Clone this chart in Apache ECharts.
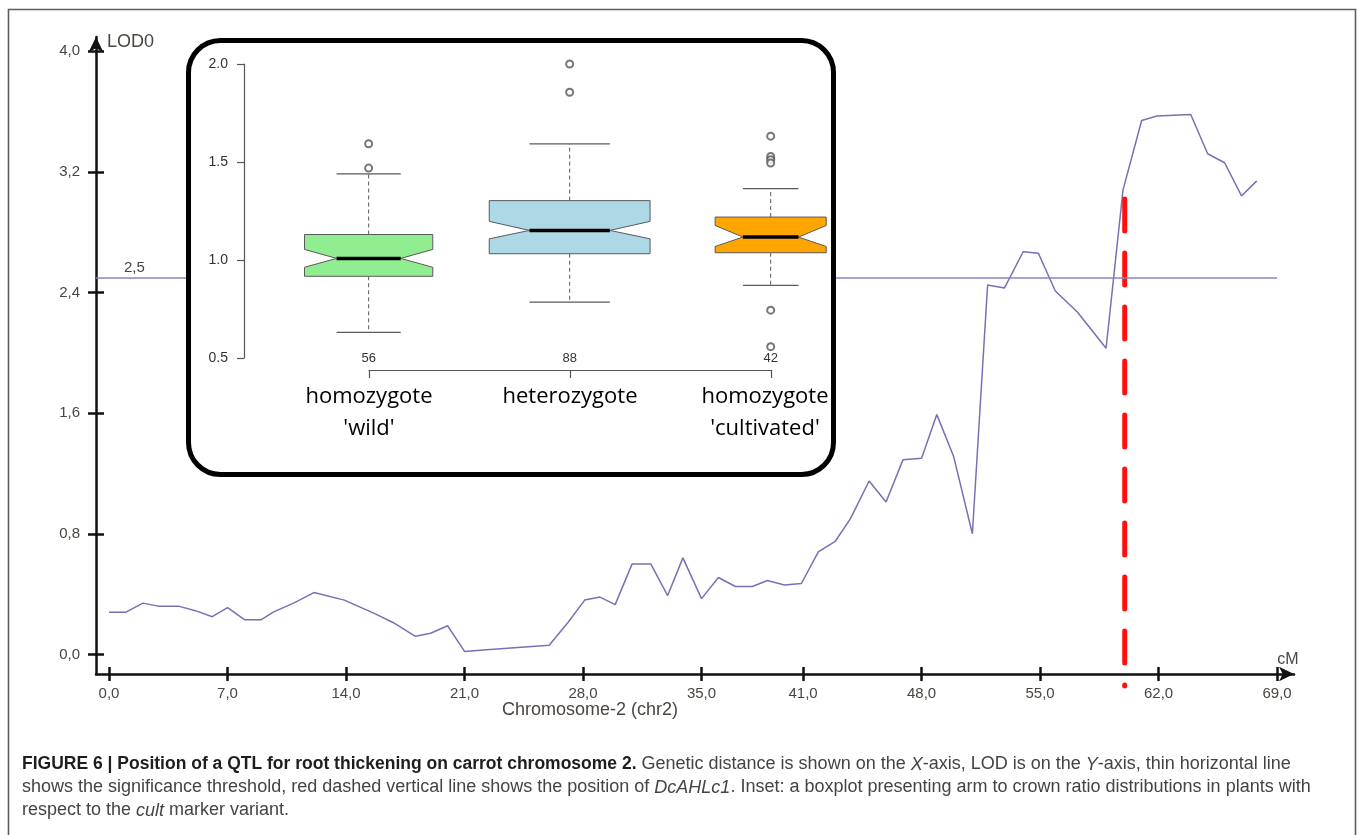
<!DOCTYPE html>
<html>
<head>
<meta charset="utf-8">
<script src="https://cdn.jsdelivr.net/npm/echarts@6/dist/echarts.min.js"></script>
<style>
  html, body { margin: 0; padding: 0; background: #fff; }
  #chart { width: 1358px; height: 835px; }
</style>
</head>
<body>
<div id="chart"></div>
<script>
// LOD profile along chromosome 2: marker position (cM) and LOD score
const positionsCM = [0.0, 1.0, 2.0, 2.9, 4.1, 5.1, 6.1, 7.0, 8.0, 9.0,
  9.7, 10.9, 12.1, 13.9, 15.7, 16.8, 18.1, 19.0, 20.0, 21.0,
  22.3, 26.0, 27.1, 28.1, 29.0, 29.9, 30.9, 32.0, 33.0, 33.9,
  35.0, 36.0, 37.0, 38.0, 38.9, 39.9, 40.9, 41.9, 42.9, 43.8,
  44.9, 45.9, 46.9, 48.0, 48.9, 49.9, 51.0, 51.9, 52.9, 54.0,
  54.9, 55.9, 57.2, 58.9, 59.9, 61.0, 61.9, 63.9, 64.9, 65.9,
  66.9, 67.8];
const lodScores = [0.28, 0.28, 0.34, 0.32, 0.32, 0.29, 0.25, 0.31, 0.23, 0.23,
  0.28, 0.34, 0.41, 0.36, 0.27, 0.21, 0.12, 0.14, 0.19, 0.02,
  0.03, 0.06, 0.21, 0.36, 0.38, 0.33, 0.60, 0.60, 0.39, 0.64,
  0.37, 0.51, 0.45, 0.45, 0.49, 0.46, 0.47, 0.68, 0.75, 0.90,
  1.15, 1.01, 1.29, 1.30, 1.59, 1.31, 0.80, 2.45, 2.43, 2.67,
  2.66, 2.41, 2.27, 2.03, 3.08, 3.54, 3.57, 3.58, 3.32, 3.26,
  3.04, 3.14];

// significance threshold and DcAHLc1 position (vertical dashed marker)
const lodThreshold = 2.5;
const thresholdLabel = '2,5';
const dcahlc1Position = 60.0;
const dcahlc1Span = [3.02, -0.21];

// tick positions printed on the axes
const xTicks = [0, 7, 14, 21, 28, 35, 41, 48, 55, 62, 69];
const yTicks = [0, 0.8, 1.6, 2.4, 3.2, 4.0];

// inset: arm to crown ratio by cult marker genotype
const genotypes = ["homozygote\n'wild'", 'heterozygote', "homozygote\n'cultivated'"];
const groupSizes = [56, 88, 42];
const whiskerLow = [0.631, 0.785, 0.871];
const quartile1 = [0.917, 1.032, 1.037];
const notchLow = [0.963, 1.108, 1.069];
const medians = [1.008, 1.151, 1.117];
const notchHigh = [1.054, 1.197, 1.176];
const quartile3 = [1.130, 1.303, 1.219];
const whiskerHigh = [1.439, 1.592, 1.364];
const outliers = [
  [1.593, 1.469],
  [2.000, 1.856],
  [1.632, 1.528, 1.512, 1.495, 0.744, 0.558]
];

const boxColors = ['#90ee90', '#add8e6', '#ffa500'];
const axisFont = 'Liberation Sans';
const labelColor = '#4a4540';
const curveColor = '#7b6fb4';

const fmtComma = v => v.toFixed(1).replace('.', ',');
const curveData = positionsCM.map((x, i) => [x, lodScores[i]]);
const boxRows = genotypes.map((g, i) => [i + 1, whiskerLow[i], quartile1[i], notchLow[i],
  medians[i], notchHigh[i], quartile3[i], whiskerHigh[i], groupSizes[i]]);
const outlierPoints = outliers.flatMap((vals, i) => vals.map(v => [i + 1, v]));
const maxN = Math.max(...groupSizes);

// notched box with dashed whiskers; box width scales with sqrt(n)
function renderNotchedBox(params, api) {
  const pos = api.value(0);
  const n = api.value(8);
  const cx = api.coord([pos, 1])[0];
  const unit = api.size([1, 0])[0];
  const hw = unit * 0.8 * Math.sqrt(n / maxN) / 2;
  const y = k => api.coord([pos, api.value(k)])[1];
  const yLo = y(1), yQ1 = y(2), yNl = y(3), yMed = y(4), yNh = y(5), yQ3 = y(6), yHi = y(7);
  const grey = '#5a5a5a';
  const countY = api.coord([pos, 0.5])[1];
  return {
    type: 'group',
    children: [
      { type: 'line', shape: { x1: cx, y1: yQ3, x2: cx, y2: yHi },
        style: { stroke: grey, lineWidth: 1, lineDash: [4, 3] } },
      { type: 'line', shape: { x1: cx, y1: yQ1, x2: cx, y2: yLo },
        style: { stroke: grey, lineWidth: 1, lineDash: [4, 3] } },
      { type: 'line', shape: { x1: cx - hw / 2, y1: yHi, x2: cx + hw / 2, y2: yHi },
        style: { stroke: grey, lineWidth: 1.3 } },
      { type: 'line', shape: { x1: cx - hw / 2, y1: yLo, x2: cx + hw / 2, y2: yLo },
        style: { stroke: grey, lineWidth: 1.3 } },
      { type: 'polygon', shape: { points: [
          [cx - hw, yQ1], [cx + hw, yQ1], [cx + hw, yNl], [cx + hw / 2, yMed], [cx + hw, yNh],
          [cx + hw, yQ3], [cx - hw, yQ3], [cx - hw, yNh], [cx - hw / 2, yMed], [cx - hw, yNl]
        ] },
        style: { fill: boxColors[params.dataIndex], stroke: grey, lineWidth: 1 } },
      { type: 'line', shape: { x1: cx - hw / 2, y1: yMed, x2: cx + hw / 2, y2: yMed },
        style: { stroke: '#000', lineWidth: 3.5 } },
      { type: 'text', style: { x: cx, y: countY, text: String(n), align: 'center',
        verticalAlign: 'middle', fontSize: 13, fill: '#333', fontFamily: axisFont } }
    ]
  };
}

// the last genotype label sits a little left so it stays inside the panel
function genotypeLabel(value, index) {
  if (index !== genotypes.length - 1) return value;
  return value.split('\n').map(line => '{last|' + line + '}').join('\n');
}

const tickStyle = { color: '#111', width: 2.5 };
const mainLine = () => ({ show: true, onZero: false, symbol: ['none', 'arrow'], symbolSize: [11, 15],
  lineStyle: { color: '#111', width: 2.5 } });

const option = {
  animation: false,
  backgroundColor: '#fff',
  grid: [
    { left: 96, top: 37, width: 1198, height: 637 },
    { left: 244, top: 64, width: 589, height: 294 },
    { left: 369, top: 369, width: 402, height: 1 }
  ],
  xAxis: [
    {
      gridIndex: 0, type: 'value', position: 'bottom', min: -0.77, max: 70,
      axisLine: mainLine(),
      axisTick: { show: true, inside: false, length: 7, customValues: xTicks, lineStyle: tickStyle },
      axisLabel: { customValues: xTicks, formatter: fmtComma, fontSize: 15, color: labelColor,
        margin: 12, fontFamily: axisFont },
      splitLine: { show: false },
      name: 'cM', nameLocation: 'end', nameGap: -6,
      nameTextStyle: { fontSize: 16, color: labelColor, fontFamily: axisFont,
        align: 'center', verticalAlign: 'bottom', padding: [0, 0, 6, 0] }
    },
    {
      gridIndex: 0, type: 'value', position: 'bottom', min: -0.77, max: 70,
      axisLine: { show: false, onZero: false },
      axisTick: { show: true, inside: true, length: 7, customValues: xTicks, lineStyle: tickStyle },
      axisLabel: { show: false }, splitLine: { show: false }
    },
    { gridIndex: 1, type: 'value', min: 0.38, max: 3.31, show: false },
    {
      gridIndex: 2, type: 'category', data: genotypes, boundaryGap: false, position: 'bottom', z: 20,
      axisLine: { show: true, onZero: false, lineStyle: { color: '#555', width: 1.2 } },
      axisTick: { show: true, length: 8, interval: 0, lineStyle: { color: '#555', width: 1.2 } },
      axisLabel: { interval: 0, fontSize: 22, lineHeight: 32, color: '#000', margin: 11,
        fontFamily: 'Open Sans', formatter: genotypeLabel,
        rich: { last: { fontSize: 22, lineHeight: 32, color: '#000', fontFamily: 'Open Sans',
          padding: [0, 12, 0, 0] } } }
    }
  ],
  yAxis: [
    {
      gridIndex: 0, type: 'value', position: 'left', min: -0.13, max: 4.094,
      axisLine: mainLine(),
      axisTick: { show: true, inside: false, length: 8, customValues: yTicks, lineStyle: tickStyle },
      axisLabel: { customValues: yTicks, formatter: fmtComma, fontSize: 15, color: labelColor,
        margin: 16, fontFamily: axisFont },
      splitLine: { show: false },
      name: 'LOD0', nameLocation: 'end', nameGap: -5,
      nameTextStyle: { fontSize: 18, color: labelColor, fontFamily: axisFont,
        align: 'left', verticalAlign: 'middle', padding: [0, 0, 0, 11] }
    },
    {
      gridIndex: 0, type: 'value', position: 'left', min: -0.13, max: 4.094,
      axisLine: { show: false, onZero: false },
      axisTick: { show: true, inside: true, length: 8, customValues: yTicks, lineStyle: tickStyle },
      axisLabel: { show: false }, splitLine: { show: false }
    },
    {
      gridIndex: 1, type: 'value', min: 0.5, max: 2.0, interval: 0.5, z: 20,
      axisLine: { show: true, onZero: false, lineStyle: { color: '#555', width: 1.2 } },
      axisTick: { show: true, length: 7, lineStyle: { color: '#555', width: 1.2 } },
      axisLabel: { formatter: v => v.toFixed(1), fontSize: 14, color: '#333', margin: 16,
        fontFamily: axisFont },
      splitLine: { show: false }
    },
    { gridIndex: 2, type: 'value', show: false }
  ],
  series: [
    {
      name: 'LOD', type: 'line', xAxisIndex: 0, yAxisIndex: 0, data: curveData,
      symbol: 'none', lineStyle: { color: curveColor, width: 1.5 }, z: 3,
      markLine: {
        silent: true, symbol: 'none',
        lineStyle: { color: '#8a80c0', width: 1.5, type: 'solid' },
        label: { show: true, formatter: thresholdLabel, position: 'insideStartTop',
          distance: [28, 2], fontSize: 15, color: labelColor, fontFamily: axisFont },
        data: [[{ coord: [-0.77, lodThreshold] }, { coord: [69, lodThreshold] }]]
      }
    },
    {
      name: 'DcAHLc1', type: 'line', xAxisIndex: 0, yAxisIndex: 0, clip: false, z: 4,
      data: [[dcahlc1Position, dcahlc1Span[0]], [dcahlc1Position, dcahlc1Span[1]]],
      symbol: 'none',
      lineStyle: { color: '#ff1010', width: 5, type: [32, 22], cap: 'round' }
    },
    {
      name: 'boxes', type: 'custom', xAxisIndex: 2, yAxisIndex: 2, z: 20,
      renderItem: renderNotchedBox, data: boxRows
    },
    {
      name: 'outliers', type: 'scatter', xAxisIndex: 2, yAxisIndex: 2, z: 21,
      data: outlierPoints, symbol: 'emptyCircle', symbolSize: 7,
      itemStyle: { color: '#555', borderColor: '#555', borderWidth: 1 }
    }
  ],
  graphic: [
    { type: 'rect', z: 1, silent: true,
      shape: { x: 8.5, y: 9.5, width: 1347, height: 840 },
      style: { fill: 'none', stroke: '#5e5e5e', lineWidth: 1.6 } },
    { type: 'rect', z: 10, silent: true,
      shape: { x: 188.5, y: 40.5, width: 645, height: 434, r: 32 },
      style: { fill: '#fff', stroke: '#000', lineWidth: 5 } },
    { type: 'text', z: 5, silent: true,
      style: { x: 590, y: 710, text: 'Chromosome-2 (chr2)', align: 'center', verticalAlign: 'middle',
        fontSize: 18, fill: labelColor, fontFamily: axisFont } },
    { type: 'text', z: 5, silent: true,
      style: {
        x: 22, y: 753, fontSize: 18, lineHeight: 23, fill: '#444', fontFamily: axisFont,
        text: '{b|FIGURE 6 | Position of a QTL for root thickening on carrot chromosome 2.} Genetic distance is shown on the {i|X}-axis, LOD is on the {i|Y}-axis, thin horizontal line\n' +
              'shows the significance threshold, red dashed vertical line shows the position of {i|DcAHLc1}. Inset: a boxplot presenting arm to crown ratio distributions in plants with\n' +
              'respect to the {i|cult} marker variant.',
        rich: {
          b: { fontWeight: 'bold', fill: '#1e1e1e', fontSize: 17.5, lineHeight: 23, fontFamily: axisFont },
          i: { fontStyle: 'italic', fill: '#444', fontSize: 18, lineHeight: 23, fontFamily: axisFont }
        }
      } }
  ]
};

const chart = echarts.init(document.getElementById('chart'));
chart.setOption(option);
</script>
</body>
</html>
